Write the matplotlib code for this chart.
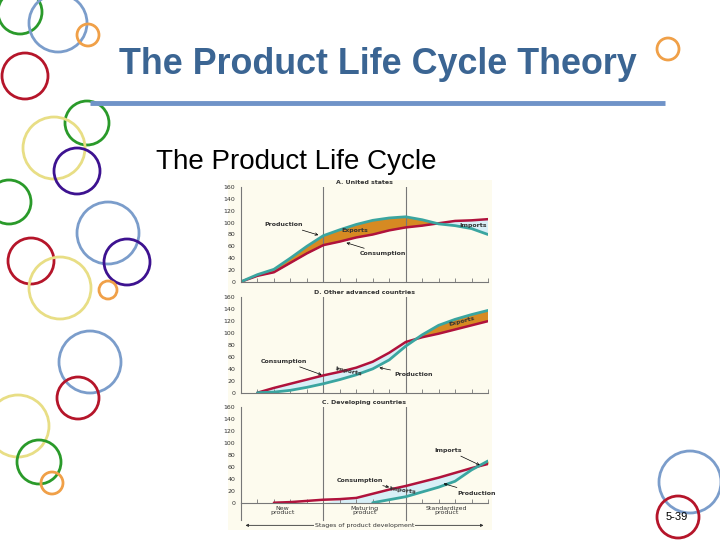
import numpy as np
import matplotlib
matplotlib.use("Agg")
import matplotlib.pyplot as plt
from matplotlib.patches import Circle, Rectangle

W, H = 720, 540

# ---- data ----
stage_x = np.arange(16)
stage_labels = ["New\nproduct", "Maturing\nproduct", "Standardized\nproduct"]
y_ticks = [0, 20, 40, 60, 80, 100, 120, 140, 160]

us_production = [0, 12, 21, 40, 60, 78, 88, 97, 104, 108, 110, 105, 98, 95, 90, 80]
us_consumption = [0, 10, 16, 32, 48, 62, 68, 75, 80, 87, 92, 95, 99, 103, 104, 106]

adv_production = [np.nan, 0, 1, 4, 9, 15, 22, 30, 40, 55, 78, 97, 113, 123, 131, 138]
adv_consumption = [np.nan, 0, 8, 15, 22, 29, 35, 42, 52, 67, 85, 93, 99, 106, 113, 120]

dev_production = [np.nan] * 8 + [0, 5, 10, 18, 26, 36, 55, 70]
dev_consumption = [np.nan, np.nan, 0, 1, 3, 5, 6, 8, 15, 22, 28, 35, 42, 50, 58, 65]

# decorative circles: (x, y, r, colour) in pixels
circles = [
    (20, 12, 22, "#2a9a2a"), (58, 23, 29, "#7b9dcb"), (88, 35, 11, "#f0a048"),
    (25, 76, 23, "#b5152a"), (87, 123, 22, "#2a9a2a"), (54, 148, 31, "#e8de85"),
    (77, 171, 23, "#3d1290"), (9, 202, 22, "#2a9a2a"), (108, 233, 31, "#7b9dcb"),
    (31, 261, 23, "#b5152a"), (127, 262, 23, "#3d1290"), (60, 288, 31, "#e8de85"),
    (108, 290, 9, "#f0a048"), (90, 362, 31, "#7b9dcb"), (78, 398, 21, "#b5152a"),
    (18, 426, 31, "#e8de85"), (39, 462, 22, "#2a9a2a"), (52, 483, 11, "#f0a048"),
    (668, 49, 11, "#f0a048"), (690, 482, 31, "#7b9dcb"), (678, 517, 21, "#b5152a"),
]

ORANGE = "#d68a22"
LIGHTBLUE = "#d8eff7"
TEAL = "#3aa5a0"
RED = "#b0123c"
BG = "#fdfbee"

fig = plt.figure(figsize=(7.2, 5.4), dpi=100)
fig.patch.set_facecolor("white")

# slide layer
slide = fig.add_axes([0, 0, 1, 1])
slide.set_xlim(0, W)
slide.set_ylim(H, 0)
slide.axis("off")
for cx, cy, r, col in circles:
    slide.add_patch(Circle((cx, cy), r, fill=False, ec=col, lw=2))
slide.text(378, 65, "The Product Life Cycle Theory", ha="center", va="center",
           fontsize=25.8, fontweight="bold", color="#3b6593", family="Liberation Sans")
slide.plot([90, 665], [103, 103], color="#6f93c8", lw=3.5, solid_capstyle="butt")
slide.text(156, 162, "The Product Life Cycle", ha="left", va="center",
           fontsize=20, color="black", family="Liberation Sans")
slide.text(677, 517, "5-39", ha="center", va="center", fontsize=8, family="Liberation Sans")
slide.add_patch(Rectangle((228, 180), 264, 350, fc=BG, ec="none"))


def px_axes(x0, y0, x1, y1):
    return fig.add_axes([x0 / W, 1 - y1 / H, (x1 - x0) / W, (y1 - y0) / H])


def panel(ax, title, prod, cons, fill_from=0):
    prod = np.array(prod, dtype=float)
    cons = np.array(cons, dtype=float)
    ax.set_facecolor("none")
    ax.set_xlim(0, 15)
    ax.set_ylim(0, 160)
    for s in ["top", "right"]:
        ax.spines[s].set_visible(False)
    for s in ["left", "bottom"]:
        ax.spines[s].set_color("#777777")
        ax.spines[s].set_linewidth(0.8)
    ax.set_yticks(y_ticks)
    ax.set_yticklabels([str(v) for v in y_ticks], fontsize=4.5, color="#333333")
    ax.tick_params(axis="y", length=0, pad=4)
    ax.set_xticks(stage_x)
    ax.set_xticklabels([])
    ax.tick_params(axis="x", direction="in", length=3, width=0.6, color="#777777")
    ax.axvline(5, color="#777777", lw=0.8)
    ax.axvline(10, color="#777777", lw=0.8)
    pf = np.where(np.isnan(prod), 0, prod)
    cf = np.where(np.isnan(cons), 0, cons)
    ok = (stage_x >= fill_from) & ~np.isnan(cons)
    ax.fill_between(stage_x, pf, cf, where=ok & (pf >= cf), interpolate=True,
                    color=ORANGE, lw=0)
    ax.fill_between(stage_x, pf, cf, where=ok & (cf >= pf), interpolate=True,
                    color=LIGHTBLUE, lw=0)
    ax.plot(stage_x, cons, color=RED, lw=1.8, solid_capstyle="round")
    ax.plot(stage_x, prod, color=TEAL, lw=2.0, solid_capstyle="round")
    ax.text(7.5, 168, title, ha="center", va="center", fontsize=4.5,
            fontweight="bold", color="#333333", clip_on=False)


def note(ax, text, xy, xytext, rot=0):
    if xy is None:
        ax.text(xytext[0], xytext[1], text, fontsize=4.5, fontweight="bold",
                color="#333333", ha="center", va="center", rotation=rot)
    else:
        ax.annotate(text, xy=xy, xytext=xytext, fontsize=4.5, fontweight="bold",
                    color="#333333", ha="center", va="center", rotation=rot,
                    arrowprops=dict(arrowstyle="->", lw=0.5, color="black",
                                    shrinkA=1, shrinkB=0))


axA = px_axes(241, 187.3, 488, 281.7)
panel(axA, "A. United states", us_production, us_consumption)
note(axA, "Production", (4.7, 79), (2.6, 97))
note(axA, "Exports", None, (6.9, 86))
note(axA, "Consumption", (6.4, 66), (8.6, 47))
note(axA, "Imports", None, (14.1, 96))

axB = px_axes(241, 297.3, 488, 392.7)
panel(axB, "D. Other advanced countries", adv_production, adv_consumption)
note(axB, "Consumption", (4.9, 30), (2.6, 53))
note(axB, "Imports", None, (6.5, 35), rot=-12)
note(axB, "Production", (8.4, 42), (10.5, 30))
note(axB, "Exports", None, (13.4, 119), rot=14)

axC = px_axes(241, 407.3, 488, 502.7)
panel(axC, "C. Developing countries", dev_production, dev_consumption, fill_from=6)
note(axC, "Imports", (14.5, 63), (12.6, 88))
note(axC, "Consumption", (9.0, 26), (7.2, 38))
note(axC, "Imports", None, (9.8, 21), rot=-8)
note(axC, "Production", (12.3, 32), (14.3, 16))
for xv in [0, 5, 10]:
    axC.plot([xv, xv], [0, -29], color="#777777", lw=0.8, clip_on=False)
for i, lab in enumerate(stage_labels):
    axC.text(2.5 + 5 * i, -13, lab, ha="center", va="center", fontsize=4.5,
             color="#333333", linespacing=0.9, clip_on=False)
axC.annotate("", xy=(0.1, -38), xytext=(14.9, -38),
             arrowprops=dict(arrowstyle="<|-|>", lw=0.6, color="#333333",
                             mutation_scale=4), annotation_clip=False)
axC.text(7.5, -38, "Stages of product development", ha="center", va="center",
         fontsize=4.5, color="#333333", clip_on=False,
         bbox=dict(fc=BG, ec="none", pad=0.8))

fig.savefig("out.png", dpi=100)
